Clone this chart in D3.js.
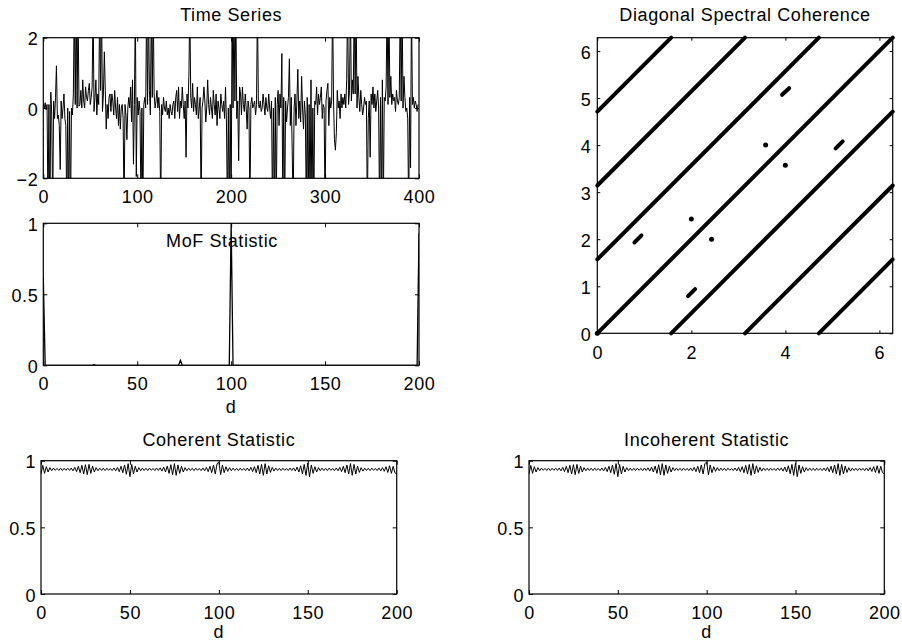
<!DOCTYPE html>
<html><head><meta charset="utf-8">
<script src="https://cdn.jsdelivr.net/npm/d3@7"></script>
<style>
html,body{margin:0;padding:0;background:#fff;}
svg{display:block;}
text{font-family:"Liberation Sans",Arial,Helvetica,sans-serif;font-size:18px;letter-spacing:0.6px;fill:#000;}
</style></head>
<body>
<svg id="chart" width="902" height="643"></svg>
<script>
// ---------------- DATA ----------------
const timeSeriesTicksX = [0, 100, 200, 300, 400];
const timeSeriesTicksY = [-2, 0, 2];
const timeSeriesValues = [
  0.1, 0.0, 0.15, -0.05, 0.1, -3, 0.1, -3.5, 0.45, -0.2,
  -3, 0.2, -0.3, 0.3, 1.2, -0.3, -0.2, -0.5, -1.75, 0.2,
  -0.3, 0.0, 0.4, -0.3, -0.5, -3, 0.0, -3, -0.1, -3,
  0.0, -0.2, 0.4, 3, 0.1, 3, 0.0, 3, 0.05, 0.1,
  0.5, 0.0, 0.8, 0.2, 0.0, 0.6, 0.3, 0.2, 0.5, 0.7,
  0.1, 0.3, 0.6, 3, -0.1, 0.3, 0.8, -0.2, 0.4, 0.1,
  3, 0.5, 3, -0.1, 0.4, 1.6, 0.5, -0.6, 0.1, -0.3,
  0.3, 0.4, -0.1, 0.4, 0.2, -0.2, 0.5, 0.0, -0.3, 0.3,
  -0.5, 0.1, -0.6, 0.0, 0.1, -0.3, -3, 0.1, -0.2, -0.9,
  0.0, 0.3, 0.0, 0.6, -0.4, 0.8, -1.6, 0.1, 3, -1.95,
  0.3, -0.2, 0.2, -0.1, -3, 0.0, -3, 0.1, 0.3, 0.0,
  3, 0.1, 3, 0.5, -0.2, 3, 0.3, 3, 0.4, 0.0,
  0.2, 0.5, 0.0, 0.3, -0.1, -3, 0.1, -0.2, 0.3, 0.0,
  -0.1, 0.2, -0.2, 0.0, -0.3, 0.1, -0.1, -0.2, 0.1, 0.2,
  -0.3, 0.3, 0.5, -0.1, 0.6, -0.3, 0.2, 0.0, 0.6, 0.1,
  -0.3, 0.2, -1.4, 0.4, 0.0, 0.9, 3, 0.3, 0.0, 0.7,
  -0.1, 0.3, 0.1, -0.2, 0.6, -0.3, 0.0, 0.3, -3, 0.0,
  0.2, 0.6, 0.2, -0.4, 0.0, 0.8, 0.1, -0.2, 0.3, 0.0,
  -0.3, 0.5, 0.1, -0.2, 0.4, -0.5, 0.2, 0.0, -0.3, 0.4,
  0.1, -0.1, 0.2, -0.3, 0.6, -0.4, -3, 0.0, -3, 0.1,
  -3, 3, 0.0, 3, 0.2, 3, -0.3, 0.2, -1.5, 0.6,
  0.4, -0.2, 0.6, 0.1, -0.1, 0.4, 0.0, -0.6, 0.2, 0.0,
  -3, 0.1, 0.3, 0.0, 0.1, 0.2, -0.2, 0.1, 3, 0.1,
  0.0, 0.2, -0.1, 0.0, 0.4, 0.1, -0.2, 0.3, 0.0, -0.1,
  0.4, 0.0, -0.3, 0.2, -3, 0.0, -3, 0.3, -3, 0.1,
  0.5, -0.5, 0.4, 0.0, 1.55, -3, 0.3, -3, 0.2, -0.4,
  0.0, 0.3, 1.4, -0.5, 0.3, -1.2, -3, 0.0, 0.4, -0.5,
  0.2, 1.1, -0.3, 0.2, -0.4, 0.9, 0.0, -0.6, 0.2, -0.2,
  -3, 0.3, -3, 0.1, -3, 0.8, -3, 0.0, -3, 0.2,
  0.1, 0.6, -0.2, 0.4, 0.1, 0.3, 0.6, -0.3, 0.1, 0.0,
  -3, 0.2, 0.5, 0.7, -0.5, 0.3, 0.0, 0.2, 3, 0.2,
  -0.9, -1.2, -0.7, 0.5, 0.0, 0.2, -0.3, 0.4, 0.0, 0.3,
  0.1, 0.4, 0.0, 0.8, 3, 0.1, 0.5, 3, 0.2, 0.8,
  0.4, 3, 0.4, 3, 0.0, 0.9, 0.3, -0.1, 0.5, 0.1,
  -0.2, 0.0, 0.3, 0.1, 0.2, -3, -0.3, 0.2, -1.4, 0.4,
  0.1, 0.6, 0.0, 0.4, -0.1, 0.2, 0.5, 0.0, -3, 0.3,
  -3, 0.8, -3, 0.3, 0.2, 0.6, 3, 0.1, 3, 0.3,
  0.9, 0.1, 0.4, 0.2, 0.3, -0.1, 0.5, 0.2, 0.1, 0.3,
  3, 0.2, 3, 0.0, 0.9, 0.3, -0.1, 0.0, -0.3, -3,
  0.3, -1.7, 3, 0.1, 0.3, 0.0, 0.2, 0.1, -0.1, 0.1
];

const dTicks = [0, 50, 100, 150, 200];
const unitTicks = [0, 0.5, 1];
const unitTickLabels = ["0", "0.5", "1"];

// MoF statistic, d = 0..200
const mofValues = [
  0.62, 0, 0, 0, 0, 0, 0, 0, 0, 0, 0, 0, 0, 0, 0, 0, 0, 0, 0, 0,
  0, 0, 0, 0, 0, 0, 0, 0.005, 0, 0, 0, 0, 0, 0, 0, 0, 0, 0, 0, 0,
  0, 0, 0, 0, 0, 0, 0, 0, 0, 0, 0, 0, 0, 0, 0, 0, 0, 0, 0, 0,
  0, 0, 0, 0, 0, 0, 0, 0, 0, 0, 0, 0, 0, 0.035, 0, 0, 0, 0, 0, 0,
  0, 0, 0, 0, 0, 0, 0, 0, 0, 0, 0, 0, 0, 0, 0, 0, 0, 0, 0, 0,
  1.0, 0, 0, 0, 0, 0, 0, 0, 0, 0, 0, 0, 0, 0, 0, 0, 0, 0, 0, 0,
  0, 0, 0, 0, 0, 0, 0, 0, 0, 0, 0, 0, 0, 0, 0, 0, 0, 0, 0, 0,
  0, 0, 0, 0, 0, 0, 0, 0, 0, 0, 0, 0, 0, 0, 0, 0, 0, 0, 0, 0,
  0, 0, 0, 0, 0, 0, 0, 0, 0, 0, 0, 0, 0, 0, 0, 0, 0, 0, 0, 0,
  0, 0, 0, 0, 0, 0, 0, 0, 0, 0, 0, 0, 0, 0, 0, 0, 0, 0, 0, 0,
  0.93
];

// Coherent statistic, d = 0..200
const coherentValues = [
  0.90, 0.965, 0.905, 0.955, 0.915, 0.948, 0.925, 0.944, 0.928, 0.942, 0.927, 0.944, 0.926, 0.943, 0.928, 0.944, 0.927, 0.945, 0.924, 0.95, 0.918, 0.958, 0.91, 0.965, 0.90,
  0.97, 0.895, 0.972, 0.905, 0.96, 0.915, 0.948, 0.925, 0.944, 0.927, 0.943, 0.926, 0.944, 0.928, 0.942, 0.926, 0.945, 0.924, 0.95, 0.918, 0.958, 0.91, 0.968, 0.898, 0.978,
  0.88, 0.972, 0.90, 0.958, 0.915, 0.948, 0.925, 0.944, 0.927, 0.943, 0.926, 0.944, 0.928, 0.942, 0.926, 0.945, 0.927, 0.946, 0.922, 0.952, 0.915, 0.96, 0.905, 0.97, 0.895,
  0.978, 0.89, 0.968, 0.905, 0.958, 0.915, 0.948, 0.925, 0.944, 0.927, 0.943, 0.926, 0.944, 0.928, 0.942, 0.926, 0.945, 0.924, 0.95, 0.918, 0.958, 0.91, 0.968, 0.90, 0.978,
  0.99, 0.895, 0.968, 0.91, 0.955, 0.92, 0.948, 0.925, 0.944, 0.927, 0.943, 0.926, 0.944, 0.928, 0.942, 0.926, 0.945, 0.924, 0.95, 0.918, 0.955, 0.91, 0.965, 0.90, 0.972,
  0.89, 0.978, 0.90, 0.962, 0.912, 0.95, 0.922, 0.945, 0.927, 0.943, 0.926, 0.944, 0.928, 0.942, 0.926, 0.945, 0.927, 0.946, 0.922, 0.952, 0.915, 0.962, 0.902, 0.972, 0.89,
  0.982, 0.88, 0.968, 0.905, 0.955, 0.915, 0.948, 0.925, 0.944, 0.927, 0.943, 0.926, 0.944, 0.928, 0.942, 0.926, 0.945, 0.924, 0.95, 0.918, 0.958, 0.91, 0.968, 0.90, 0.978,
  0.89, 0.972, 0.90, 0.96, 0.912, 0.948, 0.922, 0.944, 0.927, 0.943, 0.926, 0.944, 0.928, 0.942, 0.926, 0.945, 0.924, 0.948, 0.92, 0.955, 0.912, 0.962, 0.905, 0.958, 0.91,
  0.90
];
// Incoherent statistic (visually identical to the coherent one)
const incoherentValues = [
  0.90, 0.965, 0.905, 0.955, 0.915, 0.948, 0.925, 0.944, 0.928, 0.942, 0.927, 0.944, 0.926, 0.943, 0.928, 0.944, 0.927, 0.945, 0.924, 0.95, 0.918, 0.958, 0.91, 0.965, 0.90,
  0.97, 0.895, 0.972, 0.905, 0.96, 0.915, 0.948, 0.925, 0.944, 0.927, 0.943, 0.926, 0.944, 0.928, 0.942, 0.926, 0.945, 0.924, 0.95, 0.918, 0.958, 0.91, 0.968, 0.898, 0.978,
  0.88, 0.972, 0.90, 0.958, 0.915, 0.948, 0.925, 0.944, 0.927, 0.943, 0.926, 0.944, 0.928, 0.942, 0.926, 0.945, 0.927, 0.946, 0.922, 0.952, 0.915, 0.96, 0.905, 0.97, 0.895,
  0.978, 0.89, 0.968, 0.905, 0.958, 0.915, 0.948, 0.925, 0.944, 0.927, 0.943, 0.926, 0.944, 0.928, 0.942, 0.926, 0.945, 0.924, 0.95, 0.918, 0.958, 0.91, 0.968, 0.90, 0.978,
  0.99, 0.895, 0.968, 0.91, 0.955, 0.92, 0.948, 0.925, 0.944, 0.927, 0.943, 0.926, 0.944, 0.928, 0.942, 0.926, 0.945, 0.924, 0.95, 0.918, 0.955, 0.91, 0.965, 0.90, 0.972,
  0.89, 0.978, 0.90, 0.962, 0.912, 0.95, 0.922, 0.945, 0.927, 0.943, 0.926, 0.944, 0.928, 0.942, 0.926, 0.945, 0.927, 0.946, 0.922, 0.952, 0.915, 0.962, 0.902, 0.972, 0.89,
  0.982, 0.88, 0.968, 0.905, 0.955, 0.915, 0.948, 0.925, 0.944, 0.927, 0.943, 0.926, 0.944, 0.928, 0.942, 0.926, 0.945, 0.924, 0.95, 0.918, 0.958, 0.91, 0.968, 0.90, 0.978,
  0.89, 0.972, 0.90, 0.96, 0.912, 0.948, 0.922, 0.944, 0.927, 0.943, 0.926, 0.944, 0.928, 0.942, 0.926, 0.945, 0.924, 0.948, 0.92, 0.955, 0.912, 0.962, 0.905, 0.958, 0.91,
  0.90
];

// Diagonal spectral coherence: support lines y = x + offset, plus short segments and dots
const diagTicksX = [0, 2, 4, 6];
const diagTicksY = [0, 1, 2, 3, 4, 5, 6];
const diagLineOffsets = [-4.712, -3.1416, -1.5708, 0, 1.5708, 3.1416, 4.712];
const diagSegments = [
  [0.79, 1.93, 0.94, 2.08],
  [1.93, 0.79, 2.08, 0.94],
  [3.93, 5.07, 4.08, 5.21],
  [5.07, 3.93, 5.22, 4.08]
];
const diagDots = [[2.0, 2.43], [2.43, 2.0], [3.58, 4.0], [4.0, 3.57], [0.0, 0.0]];

// ---------------- DRAW ----------------
const svg = d3.select("#chart");
svg.append("rect").attr("width", 902).attr("height", 643).attr("fill", "#fff");
const TWO_PI = 2 * Math.PI;

function panel(id, box, xDomain, yDomain, xTicks, yTicks, xFmt, yFmt, opts) {
  const x = d3.scaleLinear().domain(xDomain).range([box.x0, box.x1]);
  const y = d3.scaleLinear().domain(yDomain).range([box.y1, box.y0]);
  const tl = opts.tick || 4;
  svg.append("clipPath").attr("id", "clip-" + id)
    .append("rect").attr("x", box.x0).attr("y", box.y0)
    .attr("width", box.x1 - box.x0).attr("height", box.y1 - box.y0);
  const plot = svg.append("g").attr("clip-path", "url(#clip-" + id + ")");

  const axes = svg.append("g");
  const gb = axes.append("g").attr("transform", `translate(0,${box.y1})`)
    .call(d3.axisBottom(x).tickValues(xTicks).tickFormat(xFmt).tickSizeInner(-tl).tickSizeOuter(0).tickPadding(opts.xPad || 12));
  const gt = axes.append("g").attr("transform", `translate(0,${box.y0})`)
    .call(d3.axisTop(x).tickValues(xTicks).tickFormat("").tickSizeInner(-tl).tickSizeOuter(0));
  const gl = axes.append("g").attr("transform", `translate(${box.x0},0)`)
    .call(d3.axisLeft(y).tickValues(yTicks).tickFormat(yFmt).tickSizeInner(-tl).tickSizeOuter(0).tickPadding(opts.yPad || 5));
  const gr = axes.append("g").attr("transform", `translate(${box.x1},0)`)
    .call(d3.axisRight(y).tickValues(yTicks).tickFormat("").tickSizeInner(-tl).tickSizeOuter(0));
  [gb, gt, gl, gr].forEach(g => {
    g.select(".domain").remove();
    g.selectAll("line").attr("stroke", "#000").attr("stroke-width", 1);
    g.selectAll("text").attr("font-family", null).attr("font-size", null).attr("fill", "#000");
  });
  gb.selectAll("text").attr("dy", "0.72em");
  gl.selectAll("text").attr("dy", "0.4em");
  axes.append("rect").attr("x", box.x0).attr("y", box.y0)
    .attr("width", box.x1 - box.x0).attr("height", box.y1 - box.y0)
    .attr("fill", "none").attr("stroke", "#000").attr("stroke-width", 1.2);

  if (opts.title) {
    svg.append("text").attr("x", opts.titleX != null ? opts.titleX : (box.x0 + box.x1) / 2)
      .attr("y", opts.titleY).attr("text-anchor", "middle").text(opts.title);
  }
  if (opts.xLabel) {
    svg.append("text").attr("x", (box.x0 + box.x1) / 2).attr("y", opts.xLabelY)
      .attr("text-anchor", "middle").text(opts.xLabel);
  }
  return { x, y, plot };
}

const minusFmt = d => d < 0 ? "\u2212" + Math.abs(d) : String(d);

// Time Series
{
  const p = panel("ts", { x0: 43.3, x1: 419, y0: 37.7, y1: 178.3 }, [0, 400], [-2, 2],
    timeSeriesTicksX, timeSeriesTicksY, d => String(d), minusFmt,
    { title: "Time Series", titleY: 21 });
  p.plot.append("path").datum(timeSeriesValues)
    .attr("d", d3.line().x((d, i) => p.x(i)).y(d => p.y(d)))
    .attr("fill", "none").attr("stroke", "#000").attr("stroke-width", 1);
}

// MoF Statistic
{
  const p = panel("mof", { x0: 43.3, x1: 419, y0: 223.3, y1: 365.3 }, [0, 200], [0, 1],
    dTicks, unitTicks, d => String(d), (d, i) => unitTickLabels[unitTicks.indexOf(d)],
    { title: "MoF Statistic", titleY: 246.5, titleX: 222, xLabel: "d", xLabelY: 413 });
  p.plot.append("path").datum(mofValues)
    .attr("d", d3.line().x((d, i) => p.x(i)).y(d => p.y(d)))
    .attr("fill", "none").attr("stroke", "#000").attr("stroke-width", 1.3);
}

// Diagonal Spectral Coherence
{
  const p = panel("diag", { x0: 597.3, x1: 892.7, y0: 37.7, y1: 333.3 }, [0, TWO_PI], [0, TWO_PI],
    diagTicksX, diagTicksY, d => String(d), d => String(d),
    { title: "Diagonal Spectral Coherence", titleY: 21, tick: 3, xPad: 13, yPad: 6 });
  const g = svg.append("g");
  diagLineOffsets.forEach(c => {
    const xa = Math.max(0, -c), xb = Math.min(TWO_PI, TWO_PI - c);
    g.append("line").attr("x1", p.x(xa)).attr("y1", p.y(xa + c))
      .attr("x2", p.x(xb)).attr("y2", p.y(xb + c))
      .attr("stroke", "#000").attr("stroke-width", 4).attr("stroke-linecap", "round");
  });
  diagSegments.forEach(s => {
    g.append("line").attr("x1", p.x(s[0])).attr("y1", p.y(s[1]))
      .attr("x2", p.x(s[2])).attr("y2", p.y(s[3]))
      .attr("stroke", "#000").attr("stroke-width", 4).attr("stroke-linecap", "round");
  });
  diagDots.forEach(d => {
    g.append("circle").attr("cx", p.x(d[0])).attr("cy", p.y(d[1])).attr("r", 2.5).attr("fill", "#000");
  });
}

// Coherent Statistic
{
  const p = panel("coh", { x0: 41, x1: 396.7, y0: 460.7, y1: 594 }, [0, 200], [0, 1],
    dTicks, unitTicks, d => String(d), d => unitTickLabels[unitTicks.indexOf(d)],
    { title: "Coherent Statistic", titleY: 446, xLabel: "d", xLabelY: 638 });
  p.plot.append("path").datum(coherentValues)
    .attr("d", d3.line().x((d, i) => p.x(i)).y(d => p.y(d)))
    .attr("fill", "none").attr("stroke", "#000").attr("stroke-width", 1);
}

// Incoherent Statistic
{
  const p = panel("inc", { x0: 529, x1: 884.3, y0: 460.7, y1: 594 }, [0, 200], [0, 1],
    dTicks, unitTicks, d => String(d), d => unitTickLabels[unitTicks.indexOf(d)],
    { title: "Incoherent Statistic", titleY: 446, xLabel: "d", xLabelY: 638 });
  p.plot.append("path").datum(incoherentValues)
    .attr("d", d3.line().x((d, i) => p.x(i)).y(d => p.y(d)))
    .attr("fill", "none").attr("stroke", "#000").attr("stroke-width", 1);
}
</script>
</body></html>
